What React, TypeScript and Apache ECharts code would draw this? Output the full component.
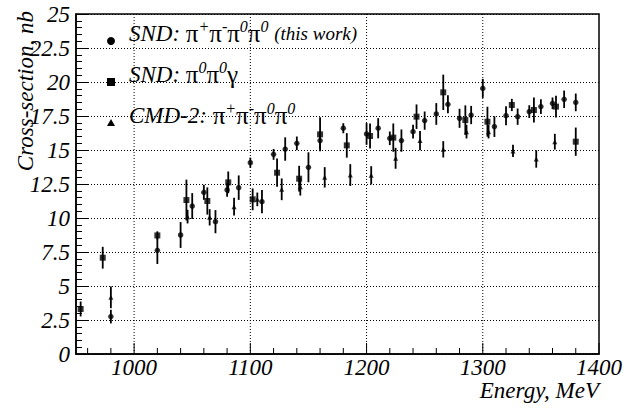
import React, { useEffect, useRef } from "react";
import * as echarts from "echarts";

// SND: pi+ pi- pi0 pi0 (this work) — circles
const sndFourPiEnergy = [980, 1020, 1040, 1050, 1060, 1070, 1080, 1090, 1100, 1110, 1120, 1130, 1140, 1150, 1160, 1180, 1200, 1210, 1220, 1230, 1240, 1250, 1260, 1270, 1280, 1290, 1300, 1310, 1320, 1330, 1340, 1350, 1360, 1370, 1380];
const sndFourPiValue = [2.75, 7.62, 8.75, 10.88, 11.89, 9.73, 12.06, 12.23, 14.07, 11.2, 14.68, 15.07, 15.49, 13.73, 15.69, 16.6, 16.18, 16.6, 15.86, 15.69, 16.35, 17.16, 17.65, 18.36, 17.33, 17.57, 19.53, 16.72, 17.52, 17.45, 17.82, 18.19, 18.43, 18.73, 18.5];
const sndFourPiError = [0.5, 1.0, 0.95, 0.95, 0.55, 0.85, 0.5, 0.9, 0.37, 0.85, 0.4, 0.86, 0.5, 1.1, 0.6, 0.37, 0.8, 0.74, 0.5, 0.82, 0.5, 0.67, 0.8, 0.66, 0.7, 0.67, 0.7, 0.76, 0.7, 0.6, 0.47, 0.54, 0.43, 0.64, 0.65];

// SND: pi0 pi0 gamma — squares
const sndGammaEnergy = [954, 973, 1020, 1045, 1063, 1081, 1102, 1123, 1142, 1160, 1183, 1203, 1223, 1243, 1266, 1285, 1304, 1325, 1344, 1363, 1380];
const sndGammaValue = [3.31, 7.08, 8.72, 11.32, 11.25, 12.62, 11.37, 13.33, 12.89, 16.15, 15.34, 16.03, 15.91, 17.45, 19.24, 17.2, 17.08, 18.31, 17.94, 18.19, 15.61];
const sndGammaError = [0.55, 0.8, 0.3, 1.5, 1.0, 0.8, 0.8, 1.04, 0.95, 1.25, 0.9, 0.92, 1.04, 0.9, 1.3, 1.08, 1.1, 0.45, 0.92, 0.8, 1.04];

// CMD-2: pi+ pi- pi0 pi0 — triangles
const cmdEnergy = [980, 1046, 1065, 1086, 1106, 1127, 1143, 1164, 1186, 1204, 1225, 1246, 1266, 1286, 1305, 1326, 1346, 1362];
const cmdValue = [4.17, 10.1, 10.05, 10.83, 11.37, 12.11, 12.3, 12.99, 13.16, 13.14, 14.39, 15.69, 15.05, 16.35, 16.35, 14.93, 14.34, 15.61];
const cmdError = [0.8, 0.5, 0.6, 0.65, 0.5, 0.8, 0.65, 0.75, 0.8, 0.67, 0.77, 0.7, 0.6, 0.5, 0.5, 0.45, 0.64, 0.58];

const xTickValues = [960, 980, 1000, 1020, 1040, 1060, 1080, 1100, 1120, 1140, 1160, 1180, 1200, 1220, 1240, 1260, 1280, 1300, 1320, 1340, 1360, 1380, 1400];
const xGridValues = [1000, 1100, 1200, 1300];
const xMajorStep = 100;

const FONT = "'Liberation Serif', 'Times New Roman', serif";

function errorSeries(E: number[], V: number[], D: number[]) {
  return {
    type: "custom",
    silent: true,
    z: 3,
    data: E.map((e, i) => [e, V[i], D[i]]),
    encode: { x: 0, y: 1 },
    renderItem: (_p: any, api: any) => {
      const x = api.value(0);
      const y = api.value(1);
      const d = api.value(2);
      const a = api.coord([x, y - d]);
      const b = api.coord([x, y + d]);
      return {
        type: "line",
        shape: { x1: a[0], y1: a[1], x2: b[0], y2: b[1] },
        style: { stroke: "#000", lineWidth: 1.8 },
      };
    },
  };
}

function markerSeries(E: number[], V: number[], symbol: string, size: number | number[]) {
  return {
    type: "scatter",
    silent: true,
    z: 4,
    symbol,
    symbolSize: size,
    itemStyle: { color: "#000" },
    data: E.map((e, i) => [e, V[i]]),
  };
}

export default function App() {
  const ref = useRef<HTMLDivElement>(null);
  useEffect(() => {
    const chart = echarts.init(ref.current!, null, { renderer: "svg" });
    const mainStyle = { fontSize: 23, fontStyle: "italic", fontFamily: FONT, color: "#000", lineHeight: 30 };
    const piStyle = { fontSize: 25, fontFamily: FONT, color: "#000", lineHeight: 30 };
    const supStyle = { fontSize: 16, fontStyle: "italic", fontFamily: FONT, color: "#000", verticalAlign: "top" };
    const smallStyle = { fontSize: 19, fontStyle: "italic", fontFamily: FONT, color: "#000", verticalAlign: "bottom", padding: [0, 0, 5, 0] };
    const rich = { m: mainStyle, p: piStyle, s: supStyle, w: smallStyle };

    const option: any = {
      animation: false,
      backgroundColor: "#fff",
      grid: { left: 76, right: 28, top: 14, bottom: 55, show: true, borderColor: "#000", borderWidth: 1.5, backgroundColor: "transparent" },
      xAxis: {
        type: "value",
        min: 950,
        max: 1400,
        interval: 50,
        axisLine: { show: true, lineStyle: { color: "#000", width: 1.5 } },
        axisTick: { show: false },
        splitLine: { show: false },
        axisLabel: {
          color: "#000",
          fontSize: 23,
          fontStyle: "italic",
          fontFamily: FONT,
          margin: 2,
          formatter: (v: number) => (v % xMajorStep === 0 ? String(v) : ""),
        },
      },
      yAxis: {
        type: "value",
        min: 0,
        max: 25,
        interval: 2.5,
        axisLine: { show: true, lineStyle: { color: "#000", width: 1.5 } },
        axisTick: { show: true, inside: true, length: 12, lineStyle: { color: "#000", width: 1 } },
        minorTick: { show: true, splitNumber: 5, length: 6, lineStyle: { color: "#000", width: 1 } },
        splitLine: { show: true, lineStyle: { color: "#000", type: [1, 2], width: 1 } },
        axisLabel: { color: "#000", fontSize: 23, fontStyle: "italic", fontFamily: FONT, margin: 6 },
      },
      series: [
        {
          type: "custom",
          silent: true,
          z: 1,
          data: xGridValues.map((v) => [v, 0]),
          encode: { x: 0, y: 1 },
          renderItem: (_p: any, api: any) => {
            const v = api.value(0);
            const a = api.coord([v, 0]);
            const b = api.coord([v, 25]);
            return {
              type: "line",
              shape: { x1: a[0], y1: a[1], x2: b[0], y2: b[1] },
              style: { stroke: "#000", lineWidth: 1, lineDash: [1, 2] },
            };
          },
        },
        {
          type: "custom",
          silent: true,
          z: 2,
          data: xTickValues.map((v) => [v, 0]),
          encode: { x: 0, y: 1 },
          renderItem: (_p: any, api: any) => {
            const v = api.value(0);
            const a = api.coord([v, 0]);
            const len = v % xMajorStep === 0 ? 11 : 6;
            return {
              type: "line",
              shape: { x1: a[0], y1: a[1], x2: a[0], y2: a[1] - len },
              style: { stroke: "#000", lineWidth: 1 },
            };
          },
        },
        errorSeries(sndFourPiEnergy, sndFourPiValue, sndFourPiError),
        errorSeries(sndGammaEnergy, sndGammaValue, sndGammaError),
        errorSeries(cmdEnergy, cmdValue, cmdError),
        markerSeries(sndFourPiEnergy, sndFourPiValue, "circle", 5.5),
        markerSeries(sndGammaEnergy, sndGammaValue, "rect", 6),
        markerSeries(cmdEnergy, cmdValue, "triangle", [5, 5]),
      ],
      graphic: [
        { type: "circle", shape: { cx: 111, cy: 41, r: 4 }, style: { fill: "#000" }, silent: true },
        { type: "rect", shape: { x: 107, y: 78, width: 8, height: 8 }, style: { fill: "#000" }, silent: true },
        { type: "polygon", shape: { points: [[111, 119], [107, 126], [115, 126]] }, style: { fill: "#000" }, silent: true },
        {
          type: "text",
          x: 129,
          y: 33,
          silent: true,
          style: {
            text: "{m|SND: }{p|π}{s|+}{p|π}{s|-}{p|π}{s|0}{p|π}{s|0}{m| }{w|(this work)}",
            rich,
            verticalAlign: "middle",
          },
        },
        {
          type: "text",
          x: 129,
          y: 74,
          silent: true,
          style: { text: "{m|SND: }{p|π}{s|0}{p|π}{s|0}{p|γ}", rich, verticalAlign: "middle" },
        },
        {
          type: "text",
          x: 129,
          y: 115,
          silent: true,
          style: { text: "{m|CMD-2: }{p|π}{s|+}{p|π}{s|-}{p|π}{s|0}{p|π}{s|0}", rich, verticalAlign: "middle" },
        },
        {
          type: "text",
          x: 599,
          y: 390,
          silent: true,
          style: { text: "Energy, MeV", fontSize: 23, fontStyle: "italic", fontFamily: FONT, fill: "#000", align: "right", verticalAlign: "middle" },
        },
        {
          type: "text",
          x: 25,
          y: 11,
          rotation: Math.PI / 2,
          silent: true,
          style: { text: "Cross-section, nb", fontSize: 23, fontStyle: "italic", fontFamily: FONT, fill: "#000", align: "right", verticalAlign: "middle" },
        },
      ],
    };
    chart.setOption(option);
    return () => chart.dispose();
  }, []);
  return <div ref={ref} style={{ position: "absolute", left: 0, top: 0, width: 627, height: 409, background: "#fff" }} />;
}
